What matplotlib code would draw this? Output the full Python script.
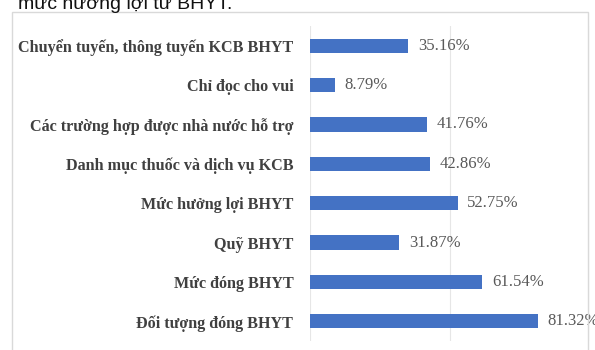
import matplotlib
matplotlib.use("Agg")
import matplotlib.pyplot as plt
from matplotlib.patches import Rectangle

categories = [
    "Chuyển tuyến, thông tuyến KCB BHYT",
    "Chỉ đọc cho vui",
    "Các trường hợp được nhà nước hỗ trợ",
    "Danh mục thuốc và dịch vụ KCB",
    "Mức hưởng lợi BHYT",
    "Quỹ BHYT",
    "Mức đóng BHYT",
    "Đối tượng đóng BHYT",
]
values = [35.16, 8.79, 41.76, 42.86, 52.75, 31.87, 61.54, 81.32]
value_labels = ["35.16%", "8.79%", "41.76%", "42.86%", "52.75%", "31.87%", "61.54%", "81.32%"]
heading = "mức hưởng lợi từ BHYT."

W, H = 595, 350
fig = plt.figure(figsize=(W / 100, H / 100), dpi=100)
fig.patch.set_facecolor("white")

# chart frame
fig.patches.append(Rectangle((12 / W, -0.05), 576 / W, 1.05 - 12 / H,
                             transform=fig.transFigure, fill=False,
                             edgecolor="#d9d9d9", linewidth=1.0))

# heading text above the chart (partly cut off at the top edge, as in the reference)
fig.text(18 / W, 1 - 9 / H, heading, fontsize=14, family="Liberation Sans",
         color="#111111", va="baseline", ha="left")

ax = fig.add_axes([310 / W, 1 - 341 / H, 280 / W, (341 - 26) / H])
y = list(range(len(categories)))
ax.barh(y, values, height=0.36, color="#4472C4", zorder=3)
ax.set_xlim(0, 100)
ax.set_ylim(len(categories) - 0.5, -0.5)
ax.set_xticks([0, 50, 100])
ax.xaxis.grid(True, color="#e6e6e6", linewidth=0.8, zorder=0)
ax.tick_params(axis="x", length=0, labelbottom=False)
ax.tick_params(axis="y", length=0, pad=12)
ax.set_yticks(y)
ax.set_yticklabels(categories, family="Liberation Serif", fontweight="bold",
                   fontsize=11.6, color="#404040")
for s in ax.spines.values():
    s.set_visible(False)
ax.set_facecolor("none")

for yi, v, lab in zip(y, values, value_labels):
    ax.annotate(lab, (v, yi), xytext=(7, 0), textcoords="offset points",
                va="center", ha="left", family="Liberation Serif",
                fontsize=12, color="#595959", annotation_clip=False)

fig.savefig("out.png", dpi=100, facecolor="white")
